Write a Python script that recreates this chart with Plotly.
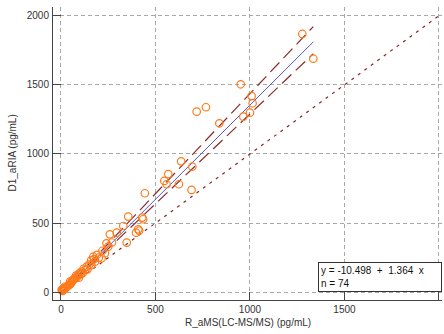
import plotly.graph_objects as go

# Data (R_aMS LC-MS/MS vs D1_aRIA), pg/mL
x_ms = [1277, 1335, 951, 1009, 1014, 718, 767, 965, 1000, 838, 636, 695, 624, 691,
        568, 547, 559, 444, 356, 430, 435, 330, 409, 414, 397, 295, 259, 348, 241,
        233, 171, 215, 180, 136, 130, 65, 48, 74, 21, 12, 4,
        150, 160, 200, 190, 120, 110, 100, 90, 85, 80, 70, 60, 55, 50, 45, 40, 35,
        30, 25, 20, 15, 10, 8, 6, 95, 105, 140, 115, 220, 250, 270, 160, 175]
y_ria = [1868, 1689, 1504, 1419, 1367, 1306, 1338, 1270, 1299, 1222, 947, 908, 781, 740,
         855, 805, 781, 716, 547, 540, 528, 479, 455, 445, 431, 431, 419, 359, 354,
         282, 257, 246, 221, 185, 161, 89, 77, 101, 40, 29, 17,
         200, 230, 250, 270, 170, 150, 140, 125, 110, 120, 95, 85, 70, 60, 55, 50, 45,
         38, 30, 25, 22, 15, 10, 12, 105, 130, 165, 140, 300, 330, 360, 195, 240]

intercept = -10.498
slope = 1.364
slope_hi = 1.447
slope_lo = 1.300
n_obs = 74

x_ticks = [0, 500, 1000, 1500, 2000]
y_ticks = [0, 500, 1000, 1500, 2000]

x_title = "R_aMS(LC-MS/MS) (pg/mL)"
y_title = "D1_aRIA (pg/mL)"

xmin, xmax = min(x_ms), max(x_ms)
line_x = [xmin, xmax]

fig = go.Figure()

# identity line
fig.add_trace(go.Scatter(x=[0, 2000], y=[0, 2000], mode="lines",
                         line=dict(color="#8b2323", width=1.2, dash="3px,5px"),
                         showlegend=False, hoverinfo="skip"))
# confidence lines
fig.add_trace(go.Scatter(x=line_x, y=[intercept + slope_hi * v for v in line_x], mode="lines",
                         line=dict(color="#8b2a2a", width=1.2, dash="13px,6px"),
                         showlegend=False, hoverinfo="skip"))
fig.add_trace(go.Scatter(x=line_x, y=[intercept + slope_lo * v for v in line_x], mode="lines",
                         line=dict(color="#8b2a2a", width=1.2, dash="13px,6px"),
                         showlegend=False, hoverinfo="skip"))
# regression line
fig.add_trace(go.Scatter(x=line_x, y=[intercept + slope * v for v in line_x], mode="lines",
                         line=dict(color="#5555cc", width=1),
                         showlegend=False, hoverinfo="skip"))
# data
fig.add_trace(go.Scatter(x=x_ms, y=y_ria, mode="markers",
                         marker=dict(symbol="circle-open", size=7.5, color="#ff7a1a",
                                     line=dict(width=1.2, color="#ff7a1a")),
                         showlegend=False))

font_family = "Liberation Sans, Arial, sans-serif"
axis_font = dict(family=font_family, size=10, color="#333333")

common_axis = dict(showline=True, linecolor="#444444", linewidth=1,
                   ticks="inside", ticklen=8, tickcolor="#444444",
                   showgrid=True, gridcolor="#a8a8a8", griddash="4px,3px", gridwidth=1,
                   zeroline=False, tickfont=axis_font, automargin=False)

fig.update_layout(
    width=444, height=334,
    margin=dict(l=53, r=2, t=7, b=34),
    paper_bgcolor="white", plot_bgcolor="white",
    font=axis_font,
    xaxis=dict(range=[-42, 2016], tickvals=x_ticks, ticktext=[str(v) for v in x_ticks],
               ticklabelstandoff=0, **common_axis),
    yaxis=dict(range=[-56, 2063], tickvals=y_ticks, ticktext=[str(v) for v in y_ticks],
               ticklabelstandoff=1, **common_axis),
    annotations=[
        dict(xref="paper", yref="paper", x=1.0, y=(300 - 292) / 293,
             xanchor="right", yanchor="bottom",
             text=f"y = {intercept}  +  {slope}  x<br>n = {n_obs}",
             showarrow=False, align="left", width=118, height=24,
             bgcolor="white", bordercolor="#333333", borderwidth=1, borderpad=2,
             font=dict(family=font_family, size=10, color="#111111")),
        dict(xref="paper", yref="paper", x=0.5, y=(300 - 322) / 293,
             xanchor="center", yanchor="middle", text=x_title, showarrow=False,
             font=axis_font),
        dict(xref="paper", yref="paper", x=(12 - 53) / 389, y=0.5,
             xanchor="center", yanchor="middle", text=y_title, showarrow=False,
             textangle=-90, font=axis_font),
    ],
)

fig.write_html("out.html", config={"displayModeBar": False},
               post_script="document.body.style.margin='0';document.body.style.padding='0';")
